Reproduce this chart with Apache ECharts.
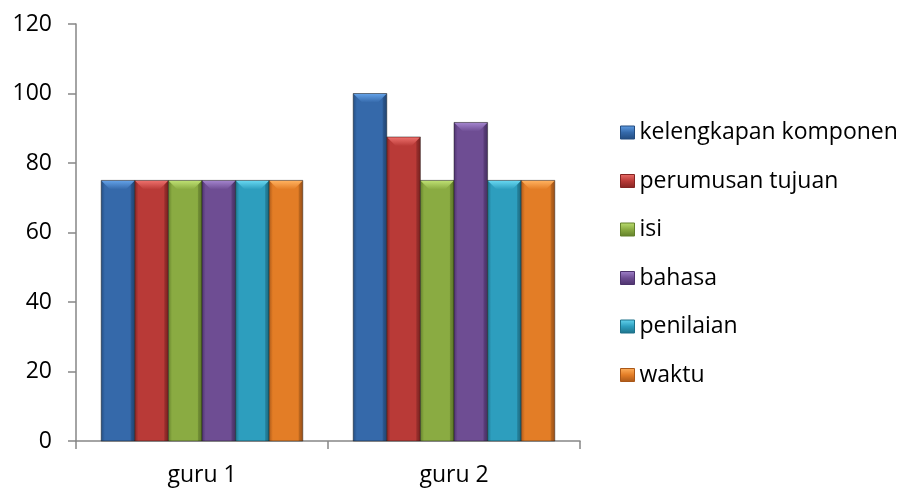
<!DOCTYPE html>
<html>
<head>
<meta charset="utf-8">
<script src="https://cdn.jsdelivr.net/npm/echarts@6/dist/echarts.min.js"></script>
<style>
  html, body { margin: 0; padding: 0; background: #fff; }
  #chart { width: 902px; height: 488px; }
</style>
</head>
<body>
<div id="chart"></div>
<script>
// Categories and series values
const categories = ['guru 1', 'guru 2'];
const seriesNames = ['kelengkapan komponen', 'perumusan tujuan', 'isi', 'bahasa', 'penilaian', 'waktu'];
const kelengkapanKomponen = [75, 100];
const perumusanTujuan = [75, 87.5];
const isi = [75, 75];
const bahasa = [75, 91.67];
const penilaian = [75, 75];
const waktu = [75, 75];
const yTicks = [0, 20, 40, 60, 80, 100, 120];

const seriesValues = [kelengkapanKomponen, perumusanTujuan, isi, bahasa, penilaian, waktu];

// Base / light / dark tones per series for the bevelled bars
const palette = [
  { base: '#3569AA', light: '#62A0E6', dark: '#234B7E' },
  { base: '#B93A37', light: '#EC6F6B', dark: '#842422' },
  { base: '#8AAB42', light: '#BDDF72', dark: '#62802A' },
  { base: '#6E4D93', light: '#A283CC', dark: '#4C326C' },
  { base: '#2D9EBE', light: '#66D6F0', dark: '#1D7189' },
  { base: '#E37D26', light: '#FFB15E', dark: '#A95718' }
];

const CAT_GAP = 0.2;          // share of each category left empty
const FONT = '"Open Sans", "DejaVu Sans", sans-serif';
const FONT_SIZE = 23;

function lin(x0, y0, x1, y1, stops) {
  return new echarts.graphic.LinearGradient(x0, y0, x1, y1,
    stops.map(s => ({ offset: s[0], color: s[1] })));
}

function makeRender(idx) {
  const c = palette[idx];
  return function (params, api) {
    const cat = api.value(0);
    const val = api.value(1);
    const top = api.coord([cat, val]);
    const base = api.coord([cat, 0]);
    const band = api.size([1, 0])[0];
    const groupW = band * (1 - CAT_GAP);
    const bw = groupW / seriesNames.length;
    const x0 = top[0] - groupW / 2 + idx * bw;
    const x1 = x0 + bw;
    const yt = top[1];
    const yb = base[1];
    const d = Math.min(9, bw / 3.5, (yb - yt) / 2);
    return {
      type: 'group',
      children: [
        {
          type: 'rect',
          shape: { x: x0, y: yt, width: bw, height: yb - yt },
          style: {
            fill: lin(0, 0, 1, 0, [[0, c.dark], [0.12, c.base], [0.45, c.base], [0.85, c.base], [1, c.dark]]),
            stroke: 'rgba(20,20,20,0.45)', lineWidth: 1
          }
        },
        {
          type: 'polygon',
          shape: { points: [[x0 + 0.5, yt + 0.5], [x1 - 0.5, yt + 0.5], [x1 - d, yt + d], [x0 + d, yt + d]] },
          style: { fill: lin(0, 0, 0, 1, [[0, c.light], [1, c.base]]) }
        },
        {
          type: 'polygon',
          shape: { points: [[x1 - 0.5, yt + 0.5], [x1 - 0.5, yb], [x1 - d * 0.45, yb], [x1 - d * 0.45, yt + d * 0.5]] },
          style: { fill: 'rgba(0,0,0,0.12)' }
        }
      ]
    };
  };
}

const series = seriesNames.map((name, i) => ({
  name: name,
  type: 'custom',
  renderItem: makeRender(i),
  itemStyle: { color: palette[i].base },
  encode: { x: 0, y: 1 },
  data: seriesValues[i].map((v, k) => [k, v])
}));

const chart = echarts.init(document.getElementById('chart'), null, { renderer: 'canvas' });
chart.setOption({
  animation: false,
  backgroundColor: '#ffffff',
  grid: { left: 76, right: 322, top: 24, bottom: 47, containLabel: false },
  legend: {
    orient: 'vertical',
    left: 620,
    top: 121,
    padding: 0,
    itemWidth: 14,
    itemHeight: 13,
    itemGap: 25.5,
    itemTextGap: 6,
    icon: 'rect',
    textStyle: { fontFamily: FONT, fontSize: FONT_SIZE, color: '#000' },
    data: seriesNames.map((n, i) => ({
      name: n,
      itemStyle: { color: lin(0, 0, 0, 1, [[0, palette[i].light], [0.5, palette[i].base], [1, palette[i].dark]]), borderColor: palette[i].dark, borderWidth: 1 }
    }))
  },
  xAxis: {
    type: 'category',
    data: categories,
    boundaryGap: true,
    axisLine: { show: true, lineStyle: { color: '#868686', width: 1.5 } },
    axisTick: { show: true, length: 8, inside: false, lineStyle: { color: '#868686', width: 1.5 } },
    axisLabel: { fontFamily: FONT, fontSize: FONT_SIZE, color: '#000', margin: 23 },
    splitLine: { show: false }
  },
  yAxis: {
    type: 'value',
    min: yTicks[0],
    max: yTicks[yTicks.length - 1],
    interval: yTicks[1] - yTicks[0],
    axisLine: { show: true, lineStyle: { color: '#868686', width: 1.5 } },
    axisTick: { show: true, length: 8, inside: false, lineStyle: { color: '#868686', width: 1.5 } },
    axisLabel: { fontFamily: FONT, fontSize: FONT_SIZE, color: '#000', margin: 24 },
    splitLine: { show: false }
  },
  series: series
});
</script>
</body>
</html>
